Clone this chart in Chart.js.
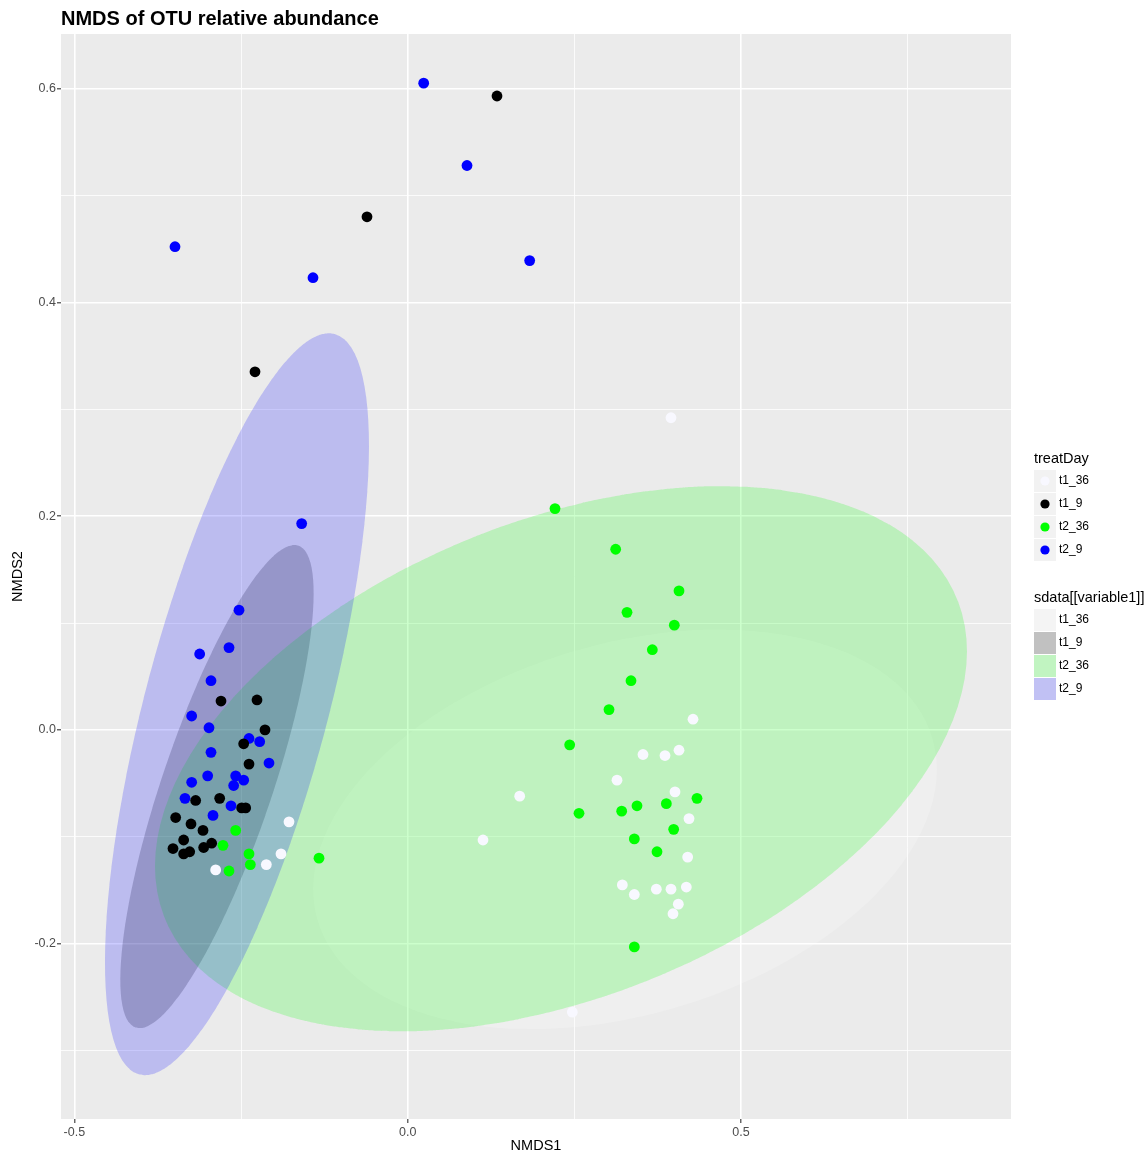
<!DOCTYPE html>
<html>
<head>
<meta charset="utf-8">
<script src="https://cdn.jsdelivr.net/npm/chart.js@4.4.1/dist/chart.umd.min.js"></script>
<style>
  html, body { margin: 0; padding: 0; background: #ffffff; }
  canvas { display: block; }
</style>
</head>
<body>
<canvas id="nmdsChart" width="1148" height="1155"></canvas>
<script>
// groups (treatDay)
const groups = ['t1_36', 't1_9', 't2_36', 't2_9'];
const pointColors = ['#F8F8FF', '#000000', '#00FF00', '#0000FF'];
const fillColors = ['rgba(255,255,255,0.2)', 'rgba(0,0,0,0.2)', 'rgba(0,255,0,0.2)', 'rgba(0,0,255,0.2)'];

// site scores
const t1_36_nmds1 = [0.395, 0.428, 0.353, 0.386, 0.407, 0.314, 0.168, 0.401, 0.422, 0.113, 0.420, 0.322,
  0.340, 0.373, 0.395, 0.418, 0.406, 0.398, 0.247, -0.178, -0.190, -0.212, -0.288];
const t1_36_nmds2 = [0.292, 0.010, -0.023, -0.024, -0.019, -0.047, -0.062, -0.058, -0.083, -0.103, -0.119, -0.145,
  -0.154, -0.149, -0.149, -0.147, -0.163, -0.172, -0.264, -0.086, -0.116, -0.126, -0.131];

const t1_9_nmds1 = [0.134, -0.061, -0.229, -0.280, -0.226, -0.214, -0.246, -0.238, -0.318, -0.282, -0.249,
  -0.243, -0.348, -0.325, -0.307, -0.336, -0.294, -0.306, -0.352, -0.336, -0.327];
const t1_9_nmds2 = [0.593, 0.480, 0.335, 0.027, 0.028, 0.000, -0.013, -0.032, -0.066, -0.064, -0.073,
  -0.073, -0.082, -0.088, -0.094, -0.103, -0.106, -0.110, -0.111, -0.116, -0.114];

const t2_36_nmds1 = [0.221, 0.312, 0.407, 0.329, 0.400, 0.367, 0.335, 0.302, 0.243, 0.434, 0.388, 0.344,
  0.321, 0.257, 0.399, 0.340, 0.374, 0.340, -0.258, -0.277, -0.238, -0.236, -0.133, -0.268];
const t2_36_nmds2 = [0.207, 0.169, 0.130, 0.110, 0.098, 0.075, 0.046, 0.019, -0.014, -0.064, -0.069, -0.071,
  -0.076, -0.078, -0.093, -0.102, -0.114, -0.203, -0.094, -0.108, -0.116, -0.126, -0.120, -0.132];

const t2_9_nmds1 = [0.024, 0.089, 0.183, -0.349, -0.142, -0.159, -0.253, -0.268, -0.312, -0.295, -0.324, -0.298,
  -0.238, -0.222, -0.295, -0.208, -0.300, -0.258, -0.246, -0.261, -0.324, -0.334, -0.265, -0.292];
const t2_9_nmds2 = [0.605, 0.528, 0.439, 0.452, 0.423, 0.193, 0.112, 0.077, 0.071, 0.046, 0.013, 0.002,
  -0.008, -0.011, -0.021, -0.031, -0.043, -0.043, -0.047, -0.052, -0.049, -0.064, -0.071, -0.080];

const nmds1 = [t1_36_nmds1, t1_9_nmds1, t2_36_nmds1, t2_9_nmds1];
const nmds2 = [t1_36_nmds2, t1_9_nmds2, t2_36_nmds2, t2_9_nmds2];

// 95% ellipses (centre, half extent along each axis, correlation)
const ellipseCenterX = [0.326, -0.286, 0.230, -0.256];
const ellipseCenterY = [-0.093, -0.053, -0.027, 0.024];
const ellipseHalfX = [0.468, 0.145, 0.609, 0.198];
const ellipseHalfY = [0.187, 0.226, 0.255, 0.347];
const ellipseCorr = [0.30, 0.80, 0.394, 0.696];

// axes
const xRange = [-0.520, 0.905];
const yRange = [-0.364, 0.651];
const xMajorTicks = [-0.5, 0, 0.5];
const xMinorTicks = [-0.25, 0.25, 0.75];
const yMajorTicks = [-0.2, 0, 0.2, 0.4, 0.6];
const yMinorTicks = [-0.3, -0.1, 0.1, 0.3, 0.5];

const FONT = '"Liberation Sans", Arial, Helvetica, sans-serif';
Chart.defaults.font.family = FONT;

function isIn(list, v) {
  return list.some(t => Math.abs(t - v) < 1e-9);
}

function ellipsePoints(i) {
  const pts = [];
  const n = 120;
  const r = ellipseCorr[i];
  const s = Math.sqrt(1 - r * r);
  for (let k = 0; k <= n; k++) {
    const t = 2 * Math.PI * k / n;
    pts.push({
      x: ellipseCenterX[i] + ellipseHalfX[i] * Math.cos(t),
      y: ellipseCenterY[i] + ellipseHalfY[i] * (r * Math.cos(t) + s * Math.sin(t))
    });
  }
  return pts;
}

const datasets = [];
// points on top (lowest order drawn last)
groups.forEach((g, i) => {
  datasets.push({
    label: g,
    data: nmds1[i].map((x, j) => ({ x: x, y: nmds2[i][j] })),
    backgroundColor: pointColors[i],
    borderWidth: 0,
    pointRadius: 5.4,
    pointBorderWidth: 0,
    showLine: false,
    order: 0
  });
});
// ellipses in ggplot layer order: t1_36 first ... t2_9 last
groups.forEach((g, i) => {
  datasets.push({
    label: 'ellipse ' + g,
    data: ellipsePoints(i),
    showLine: true,
    fill: 'shape',
    backgroundColor: fillColors[i],
    borderColor: 'rgba(0,0,0,0)',
    borderWidth: 0,
    pointRadius: 0,
    tension: 0.01, // keeps the slow path so steep edges are not merged per pixel column
    order: 10 - i
  });
});

const panelPlugin = {
  id: 'panel',
  beforeDraw(chart) {
    const a = chart.chartArea;
    const ctx = chart.ctx;
    ctx.save();
    ctx.fillStyle = '#EBEBEB';
    ctx.fillRect(a.left, a.top, a.right - a.left, a.bottom - a.top);
    ctx.restore();
  },
  afterDraw(chart) {
    const ctx = chart.ctx;
    ctx.save();
    // title
    ctx.fillStyle = '#000000';
    ctx.font = 'bold 20px ' + FONT;
    ctx.textBaseline = 'alphabetic';
    ctx.textAlign = 'left';
    ctx.fillText('NMDS of OTU relative abundance', 61, 25);

    // legend: treatDay (points)
    const lx = 1034;
    ctx.textBaseline = 'middle';
    ctx.font = '14.5px ' + FONT;
    ctx.fillText('treatDay', lx, 459);
    groups.forEach((g, i) => {
      const top = 470 + i * 23;
      ctx.fillStyle = '#F2F2F2';
      ctx.fillRect(lx, top, 22, 22);
      ctx.fillStyle = pointColors[i];
      ctx.beginPath();
      ctx.arc(lx + 11, top + 11, 4.6, 0, 2 * Math.PI);
      ctx.fill();
      ctx.fillStyle = '#000000';
      ctx.font = '12px ' + FONT;
      ctx.fillText(g, 1059, top + 11);
    });

    // legend: ellipse fills
    ctx.font = '14.5px ' + FONT;
    ctx.fillText('sdata[[variable1]]', lx, 598);
    groups.forEach((g, i) => {
      const top = 609 + i * 23;
      ctx.fillStyle = '#F2F2F2';
      ctx.fillRect(lx, top, 22, 22);
      ctx.fillStyle = fillColors[i];
      ctx.fillRect(lx, top, 22, 22);
      ctx.fillStyle = '#000000';
      ctx.font = '12px ' + FONT;
      ctx.fillText(g, 1059, top + 11);
    });
    ctx.restore();
  }
};

function gridFor(major) {
  return {
    color: '#FFFFFF',
    lineWidth: c => (c.tick && isIn(major, c.tick.value)) ? 1.6 : 0.8,
    tickColor: c => (c.tick && isIn(major, c.tick.value)) ? '#333333' : 'rgba(0,0,0,0)',
    tickLength: 4,
    tickWidth: 1.1,
    drawTicks: true
  };
}

new Chart(document.getElementById('nmdsChart'), {
  type: 'scatter',
  data: { datasets: datasets },
  plugins: [panelPlugin],
  options: {
    responsive: false,
    animation: false,
    events: [],
    layout: { padding: { left: 0, right: 137, top: 34, bottom: 0 } },
    plugins: {
      legend: { display: false },
      tooltip: { enabled: false },
      filler: { propagate: false }
    },
    scales: {
      x: {
        type: 'linear',
        min: xRange[0],
        max: xRange[1],
        afterBuildTicks: s => { s.ticks = xMajorTicks.concat(xMinorTicks).sort((a, b) => a - b).map(v => ({ value: v })); },
        afterFit: s => { s.height = 36; },
        border: { display: false },
        grid: gridFor(xMajorTicks),
        ticks: {
          autoSkip: false,
          maxRotation: 0,
          padding: 2,
          color: '#4D4D4D',
          font: { size: 12.5 },
          callback: v => isIn(xMajorTicks, v) ? v.toFixed(1) : ''
        },
        title: {
          display: true,
          text: 'NMDS1',
          color: '#000000',
          font: { size: 14.5 },
          padding: { top: 0, bottom: 0 }
        }
      },
      y: {
        type: 'linear',
        min: yRange[0],
        max: yRange[1],
        afterBuildTicks: s => { s.ticks = yMajorTicks.concat(yMinorTicks).sort((a, b) => a - b).map(v => ({ value: v })); },
        afterFit: s => { s.width = 61; },
        border: { display: false },
        grid: gridFor(yMajorTicks),
        ticks: {
          autoSkip: false,
          padding: 1,
          color: '#4D4D4D',
          font: { size: 12.5 },
          callback: v => isIn(yMajorTicks, v) ? v.toFixed(1) : ''
        },
        title: {
          display: true,
          text: 'NMDS2',
          color: '#000000',
          font: { size: 14.5 },
          padding: { top: 9, bottom: 0 }
        }
      }
    }
  }
});
</script>
</body>
</html>
